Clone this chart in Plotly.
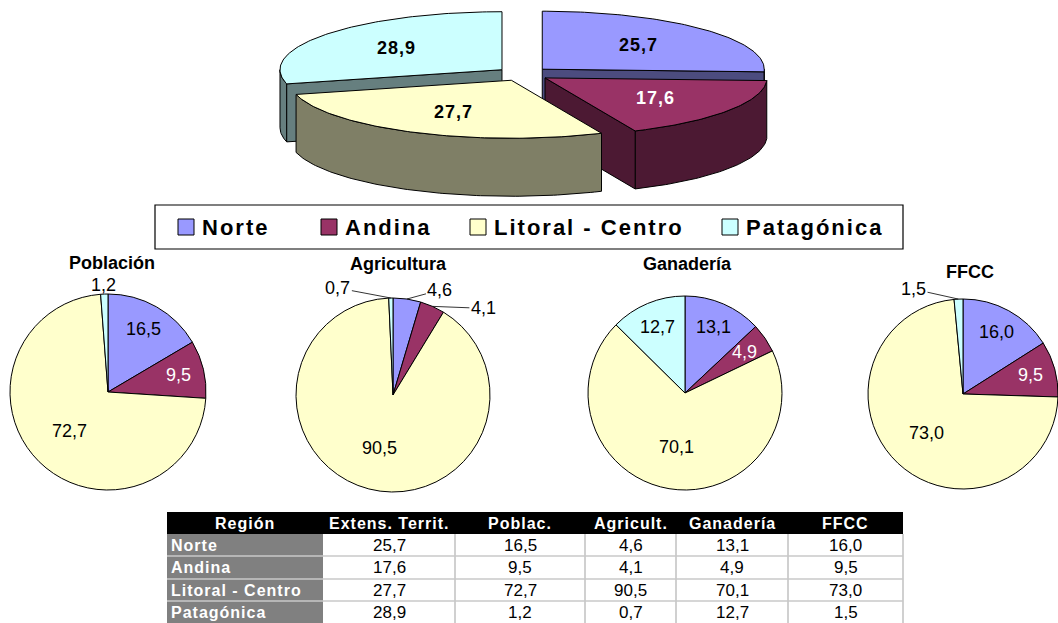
import math
import plotly.graph_objects as go

# ---------------- data ----------------
regions = ["Norte", "Andina", "Litoral - Centro", "Patagónica"]
extension = [25.7, 17.6, 27.7, 28.9]      # Extens. Territ. (3D pie)
poblacion = [16.5, 9.5, 72.7, 1.2]
agricultura = [4.6, 4.1, 90.5, 0.7]
ganaderia = [13.1, 4.9, 70.1, 12.7]
ffcc = [16.0, 9.5, 73.0, 1.5]
pie_titles = ["Población", "Agricultura", "Ganadería", "FFCC"]
table_header = ["Región", "Extens. Territ.", "Poblac.", "Agricult.", "Ganadería", "FFCC"]

# ---------------- style ----------------
W, H = 1058, 623
FONT = "Arial, Liberation Sans, sans-serif"
colors = ["#9999FF", "#993366", "#FFFFCC", "#CCFFFF"]
side_colors = ["#4C4C7F", "#4C1933", "#7F7F66", "#667F7F"]
label_colors = ["black", "white", "black", "black"]

P3 = dict(cx=523, cy=74, a=222, b=58, depth=58, explode=0.12, k=0.6)
small_pies = [  # center x, center y, radius, title position (pixels)
    dict(cx=108, cy=392, r=98, tx=112, ty=263),
    dict(cx=393, cy=395, r=97, tx=398, ty=264),
    dict(cx=685, cy=393, r=97, tx=687, ty=264),
    dict(cx=963, cy=394, r=95, tx=970, ty=272),
]
# outside labels: slice index -> (ax, ay) arrow offsets, or None for plain label outside
outside = [
    {3: None},
    {0: (33, -9), 1: (51, 2), 3: (-53, -10)},
    {},
    {3: (-45, -10)},
]
legend_box = dict(x0=155, x1=903, y0=205, y1=249)
legend_sq_x = [178, 321, 470, 722]
legend_sq = 16
legend_y = 227
table_col_edges = [167, 323, 455, 585, 676, 788, 903]
table_row_edges = [512, 534, 556, 579, 601, 623]


def fmt(v):
    return f"{v:.1f}".replace(".", ",")


def spaced(t, px):
    return f'<span style="letter-spacing:{px}px">{t}</span>'


fig = go.Figure()

# ---------------- 3D exploded pie (drawn on pixel axes) ----------------
total = sum(extension)
starts, ends = [], []
acc = 0.0
for v in extension:
    starts.append(360 * acc / total)
    acc += v
    ends.append(360 * acc / total)


def pt(ax_, ay_, t, dy=0.0):
    r = math.radians(t)
    return ax_ + P3["a"] * math.sin(r), ay_ - P3["b"] * math.cos(r) + dy


def arc(ax_, ay_, t0, t1, dy=0.0):
    n = max(2, int(abs(t1 - t0)) + 1)
    xs, ys = [], []
    for i in range(n + 1):
        t = t0 + (t1 - t0) * i / n
        x, y = pt(ax_, ay_, t, dy)
        xs.append(x)
        ys.append(y)
    return xs, ys


def poly(xs, ys, fill):
    fig.add_trace(go.Scatter(x=xs + [xs[0]], y=ys + [ys[0]], mode="lines", fill="toself",
                             fillcolor=fill, line=dict(color="black", width=1),
                             hoverinfo="skip", showlegend=False, xaxis="x", yaxis="y"))


apexes = []
for i in range(len(extension)):
    m = math.radians((starts[i] + ends[i]) / 2)
    apx = P3["cx"] + P3["explode"] * P3["a"] * math.sin(m)
    apy = P3["cy"] - P3["explode"] * P3["b"] * math.cos(m)
    apexes.append((apx, apy))

order = sorted(range(len(extension)), key=lambda i: apexes[i][1])
D = P3["depth"]
for i in order:
    apx, apy = apexes[i]
    s, e = starts[i], ends[i]
    t0, t1 = max(s, 90), min(e, 270)
    if t1 > t0:
        xs, ys = arc(apx, apy, t0, t1)
        xb, yb = arc(apx, apy, t0, t1, D)
        poly(xs + xb[::-1], ys + yb[::-1], side_colors[i])
    if math.sin(math.radians(s)) < -1e-9:
        x1, y1 = pt(apx, apy, s)
        poly([apx, x1, x1, apx], [apy, y1, y1 + D, apy + D], side_colors[i])
    if math.sin(math.radians(e)) > 1e-9:
        x1, y1 = pt(apx, apy, e)
        poly([apx, x1, x1, apx], [apy, y1, y1 + D, apy + D], side_colors[i])
    xs, ys = arc(apx, apy, s, e)
    poly([apx] + xs, [apy] + ys, colors[i])

annotations = []
for i, v in enumerate(extension):
    apx, apy = apexes[i]
    m = (starts[i] + ends[i]) / 2
    r = math.radians(m)
    annotations.append(dict(x=apx + P3["k"] * P3["a"] * math.sin(r),
                            y=apy - P3["k"] * P3["b"] * math.cos(r),
                            xref="x", yref="y", text=f"<b>{spaced(fmt(v), 1)}</b>", showarrow=False,
                            font=dict(family=FONT, size=18, color=label_colors[i])))

# ---------------- small pies ----------------
series = [poblacion, agricultura, ganaderia, ffcc]
for j, vals in enumerate(series):
    g = small_pies[j]
    cx, cy, r = g["cx"], g["cy"], g["r"]
    fig.add_trace(go.Pie(
        labels=regions, values=vals, sort=False, direction="clockwise", rotation=0,
        marker=dict(colors=colors, line=dict(color="black", width=1)),
        textinfo="none", hoverinfo="skip", showlegend=False,
        domain=dict(x=[(cx - r) / W, (cx + r) / W], y=[(H - cy - r) / H, (H - cy + r) / H]),
    ))
    annotations.append(dict(x=g["tx"], y=g["ty"], xref="x", yref="y", text=f"<b>{pie_titles[j]}</b>",
                            showarrow=False, font=dict(family=FONT, size=18, color="black")))
    tot = sum(vals)
    acc = 0.0
    for i, v in enumerate(vals):
        mid = math.radians(360 * (acc + v / 2) / tot)
        acc += v
        if i in outside[j]:
            off = outside[j][i]
            if off is None:
                annotations.append(dict(x=cx + 1.09 * r * math.sin(mid), y=cy - 1.09 * r * math.cos(mid),
                                        xref="x", yref="y", text=fmt(v), showarrow=False,
                                        font=dict(family=FONT, size=18, color="black")))
            else:
                annotations.append(dict(x=cx + r * math.sin(mid), y=cy - r * math.cos(mid),
                                        xref="x", yref="y", text=fmt(v), showarrow=True,
                                        ax=off[0], ay=off[1], arrowhead=0, arrowwidth=0.8,
                                        arrowcolor="black", standoff=0,
                                        font=dict(family=FONT, size=18, color="black")))
        else:
            k = 0.74 if v < 30 else 0.56
            annotations.append(dict(x=cx + k * r * math.sin(mid), y=cy - k * r * math.cos(mid),
                                    xref="x", yref="y", text=fmt(v), showarrow=False,
                                    font=dict(family=FONT, size=18, color=label_colors[i])))

# ---------------- legend (manual) ----------------
shapes = [dict(type="rect", xref="x", yref="y", x0=legend_box["x0"], x1=legend_box["x1"],
               y0=legend_box["y0"], y1=legend_box["y1"], line=dict(color="black", width=1.2),
               fillcolor="white", layer="below")]
for i, name in enumerate(regions):
    x0 = legend_sq_x[i]
    shapes.append(dict(type="rect", xref="x", yref="y", x0=x0, x1=x0 + legend_sq,
                       y0=legend_y - legend_sq / 2, y1=legend_y + legend_sq / 2,
                       fillcolor=colors[i], line=dict(color="black", width=1), layer="above"))
    annotations.append(dict(x=x0 + legend_sq + 6, y=legend_y, xref="x", yref="y", xanchor="left",
                            text=f"<b>{spaced(name, 2)}</b>", showarrow=False,
                            font=dict(family=FONT, size=22, color="black")))

# ---------------- table (cells drawn as shapes, text as annotations) ----------------
ce, re_ = table_col_edges, table_row_edges
shapes.append(dict(type="rect", xref="x", yref="y", x0=ce[0], x1=ce[-1], y0=re_[0], y1=re_[1],
                   fillcolor="black", line=dict(width=0), layer="below"))
shapes.append(dict(type="rect", xref="x", yref="y", x0=ce[0], x1=ce[1], y0=re_[1], y1=re_[-1],
                   fillcolor="#808080", line=dict(width=0), layer="below"))
for x in ce[2:]:
    shapes.append(dict(type="line", xref="x", yref="y", x0=x, x1=x, y0=re_[1], y1=re_[-1],
                       line=dict(color="#C0C0C0", width=1.5)))
for y in re_[2:-1]:
    shapes.append(dict(type="line", xref="x", yref="y", x0=ce[0], x1=ce[-1], y0=y, y1=y,
                       line=dict(color="#C8C8C8", width=1.5)))

columns = [extension, poblacion, agricultura, ganaderia, ffcc]
for c, h in enumerate(table_header):
    annotations.append(dict(x=(ce[c] + ce[c + 1]) / 2, y=(re_[0] + re_[1]) / 2, xref="x", yref="y",
                            text=f"<b>{spaced(h, 1)}</b>", showarrow=False,
                            font=dict(family=FONT, size=16, color="white")))
for rI, name in enumerate(regions):
    yc = (re_[rI + 1] + re_[rI + 2]) / 2
    annotations.append(dict(x=ce[0] + 2, y=yc, xref="x", yref="y", xanchor="left",
                            text=f"<b>{spaced(name, 1)}</b>", showarrow=False,
                            font=dict(family=FONT, size=16, color="white")))
    for c, col in enumerate(columns):
        annotations.append(dict(x=(ce[c + 1] + ce[c + 2]) / 2, y=yc, xref="x", yref="y",
                                text=fmt(col[rI]), showarrow=False,
                                font=dict(family=FONT, size=17, color="black")))

fig.update_layout(
    width=W, height=H, margin=dict(l=0, r=0, t=0, b=0, pad=0),
    paper_bgcolor="white", plot_bgcolor="white", showlegend=False,
    xaxis=dict(range=[0, W], visible=False, fixedrange=True, domain=[0, 1]),
    yaxis=dict(range=[H, 0], visible=False, fixedrange=True, domain=[0, 1]),
    annotations=annotations, shapes=shapes,
    font=dict(family=FONT),
)

fig.write_html("out.html", config={"displayModeBar": False},
               post_script="document.body.style.margin='0';")
